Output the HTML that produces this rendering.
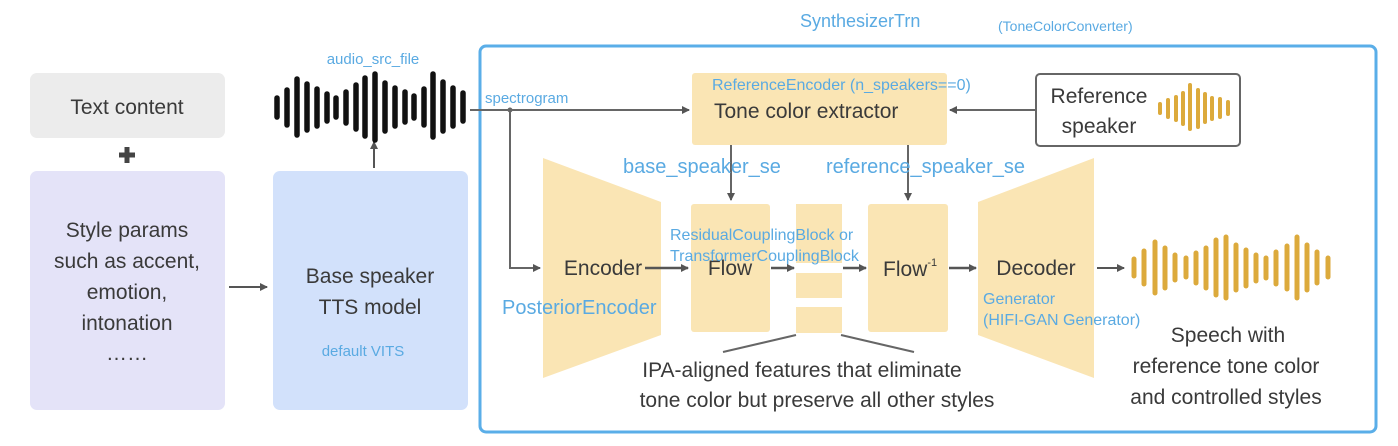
<!DOCTYPE html>
<html><head><meta charset="utf-8"><style>
html,body{margin:0;padding:0;background:#fff;}
svg{display:block;}
.d{font-family:"Liberation Sans",sans-serif;fill:#3a3a3a;}
.b{font-family:"Liberation Sans",sans-serif;fill:#5aaae2;}
</style></head><body>
<svg width="1398" height="446" viewBox="0 0 1398 446" xmlns="http://www.w3.org/2000/svg">
<defs>
<marker id="ar" markerWidth="8" markerHeight="8" refX="7" refY="4" orient="auto" markerUnits="userSpaceOnUse">
<path d="M0,0 L8,4 L0,8 z" fill="#555"/></marker>
</defs>
<rect x="30" y="73" width="195" height="65" rx="7" fill="#ececec"/>
<text class="d" x="127" y="114" font-size="21" text-anchor="middle">Text content</text>
<path d="M127 147 v16 M119 155 h16" stroke="#444" stroke-width="5"/>
<rect x="30" y="171" width="195" height="239" rx="7" fill="#e4e3f8"/>
<text class="d" font-size="21" text-anchor="middle"><tspan x="127" y="237">Style params</tspan><tspan x="127" y="268">such as accent,</tspan><tspan x="127" y="299">emotion,</tspan><tspan x="127" y="330">intonation</tspan><tspan x="127" y="360">……</tspan></text>
<line x1="229" y1="287" x2="267" y2="287" stroke="#555" stroke-width="2" marker-end="url(#ar)"/>
<rect x="273" y="171" width="195" height="239" rx="7" fill="#d2e1fb"/>
<text class="d" font-size="21" text-anchor="middle"><tspan x="370" y="283">Base speaker</tspan><tspan x="370" y="314">TTS model</tspan></text>
<text class="b" x="363" y="356" font-size="15" text-anchor="middle">default VITS</text>
<line x1="374" y1="168" x2="374" y2="142" stroke="#555" stroke-width="2" marker-end="url(#ar)"/>
<text class="b" x="373" y="64" font-size="15" text-anchor="middle">audio_src_file</text>
<g stroke="#111" stroke-width="5.5" stroke-linecap="round">
<line x1="277" y1="98" x2="277" y2="117"/><line x1="287" y1="90" x2="287" y2="125"/><line x1="297" y1="79" x2="297" y2="135"/><line x1="307" y1="84" x2="307" y2="130"/><line x1="317" y1="89" x2="317" y2="126"/><line x1="327" y1="94" x2="327" y2="121"/><line x1="336" y1="98" x2="336" y2="117"/><line x1="346" y1="92" x2="346" y2="123"/><line x1="356" y1="85" x2="356" y2="129"/><line x1="365" y1="78" x2="365" y2="136"/><line x1="375" y1="74" x2="375" y2="140"/><line x1="385" y1="83" x2="385" y2="131"/><line x1="395" y1="88" x2="395" y2="126"/><line x1="405" y1="92" x2="405" y2="122"/><line x1="414" y1="96" x2="414" y2="118"/><line x1="424" y1="89" x2="424" y2="125"/><line x1="433" y1="74" x2="433" y2="137"/><line x1="443" y1="82" x2="443" y2="131"/><line x1="453" y1="88" x2="453" y2="126"/><line x1="463" y1="93" x2="463" y2="121"/>
</g>
<rect x="480" y="46" width="896" height="386" rx="6" fill="none" stroke="#5aaee8" stroke-width="3"/>
<text class="b" x="800" y="27" font-size="18">SynthesizerTrn</text>
<text class="b" x="998" y="31" font-size="14">(ToneColorConverter)</text>
<text class="b" x="485" y="103" font-size="15">spectrogram</text>
<line x1="470" y1="110" x2="689" y2="110" stroke="#666" stroke-width="2" marker-end="url(#ar)"/>
<polyline points="510,110 510,268 540,268" fill="none" stroke="#666" stroke-width="2" marker-end="url(#ar)"/>
<circle cx="510" cy="110" r="2.5" fill="#666"/>
<rect x="692" y="73" width="255" height="72" rx="3" fill="#fae5b4"/>
<text class="b" x="712" y="90" font-size="16">ReferenceEncoder (n_speakers==0)</text>
<text class="d" x="714" y="118" font-size="21">Tone color extractor</text>
<line x1="1035" y1="110" x2="950" y2="110" stroke="#666" stroke-width="2" marker-end="url(#ar)"/>
<line x1="731" y1="145" x2="731" y2="200" stroke="#666" stroke-width="2" marker-end="url(#ar)"/>
<line x1="908" y1="145" x2="908" y2="200" stroke="#666" stroke-width="2" marker-end="url(#ar)"/>
<rect x="1036" y="74" width="204" height="72" rx="4" fill="#fff" stroke="#666" stroke-width="2"/>
<text class="d" font-size="21" text-anchor="middle"><tspan x="1099" y="103">Reference</tspan><tspan x="1099" y="133">speaker</tspan></text>
<g stroke="#dcaa3c" stroke-width="4" stroke-linecap="round">
<line x1="1160" y1="104" x2="1160" y2="113"/><line x1="1168" y1="100" x2="1168" y2="117"/><line x1="1176" y1="97" x2="1176" y2="120"/><line x1="1183" y1="93" x2="1183" y2="124"/><line x1="1190" y1="85" x2="1190" y2="129"/><line x1="1198" y1="90" x2="1198" y2="127"/><line x1="1205" y1="94" x2="1205" y2="122"/><line x1="1212" y1="98" x2="1212" y2="119"/><line x1="1220" y1="99" x2="1220" y2="117"/><line x1="1228" y1="102" x2="1228" y2="114"/>
</g>
<polygon points="543,158 661,202 661,335 543,378" fill="#fae5b4"/>
<rect x="691" y="204" width="79" height="128" rx="3" fill="#fae5b4"/>
<rect x="796" y="204" width="46" height="59" fill="#fae5b4"/>
<rect x="796" y="273" width="46" height="25" fill="#fae5b4"/>
<rect x="796" y="307" width="46" height="26" fill="#fae5b4"/>
<rect x="868" y="204" width="80" height="128" rx="3" fill="#fae5b4"/>
<polygon points="978,202 1094,158 1094,378 978,335" fill="#fae5b4"/>
<text class="b" x="623" y="173" font-size="20">base_speaker_se</text>
<text class="b" x="826" y="173" font-size="20">reference_speaker_se</text>
<text class="d" x="603" y="275" font-size="21" text-anchor="middle">Encoder</text>
<text class="d" x="730" y="275" font-size="21" text-anchor="middle">Flow</text>
<text class="d" x="883" y="276" font-size="21">Flow<tspan font-size="11" dy="-10">-1</tspan></text>
<text class="d" x="1036" y="275" font-size="21" text-anchor="middle">Decoder</text>
<text class="b" x="670" y="240" font-size="16">ResidualCouplingBlock or</text>
<text class="b" x="670" y="261" font-size="16">TransformerCouplingBlock</text>
<text class="b" x="502" y="314" font-size="20">PosteriorEncoder</text>
<text class="b" x="983" y="304" font-size="16">Generator</text>
<text class="b" x="983" y="325" font-size="16">(HIFI-GAN Generator)</text>
<line x1="645" y1="268" x2="688" y2="268" stroke="#555" stroke-width="2.5" marker-end="url(#ar)"/>
<line x1="771" y1="268" x2="794" y2="268" stroke="#555" stroke-width="2.5" marker-end="url(#ar)"/>
<line x1="843" y1="268" x2="866" y2="268" stroke="#555" stroke-width="2.5" marker-end="url(#ar)"/>
<line x1="949" y1="268" x2="976" y2="268" stroke="#555" stroke-width="2.5" marker-end="url(#ar)"/>
<line x1="1097" y1="268" x2="1124" y2="268" stroke="#555" stroke-width="2" marker-end="url(#ar)"/>
<line x1="796" y1="335" x2="723" y2="352" stroke="#666" stroke-width="2"/>
<line x1="841" y1="335" x2="914" y2="352" stroke="#666" stroke-width="2"/>
<text class="d" font-size="21" text-anchor="middle"><tspan x="802" y="377">IPA-aligned features that eliminate</tspan><tspan x="817" y="407">tone color but preserve all other styles</tspan></text>
<g stroke="#dcaa3c" stroke-width="5" stroke-linecap="round">
<line x1="1134" y1="259" x2="1134" y2="276"/><line x1="1144" y1="251" x2="1144" y2="284"/><line x1="1155" y1="242" x2="1155" y2="293"/><line x1="1165" y1="248" x2="1165" y2="288"/><line x1="1175" y1="255" x2="1175" y2="280"/><line x1="1186" y1="258" x2="1186" y2="277"/><line x1="1196" y1="253" x2="1196" y2="283"/><line x1="1206" y1="248" x2="1206" y2="288"/><line x1="1216" y1="240" x2="1216" y2="295"/><line x1="1226" y1="237" x2="1226" y2="298"/><line x1="1236" y1="245" x2="1236" y2="290"/><line x1="1246" y1="250" x2="1246" y2="286"/><line x1="1256" y1="255" x2="1256" y2="281"/><line x1="1266" y1="258" x2="1266" y2="278"/><line x1="1276" y1="252" x2="1276" y2="284"/><line x1="1287" y1="246" x2="1287" y2="289"/><line x1="1297" y1="237" x2="1297" y2="298"/><line x1="1307" y1="245" x2="1307" y2="290"/><line x1="1317" y1="252" x2="1317" y2="283"/><line x1="1328" y1="258" x2="1328" y2="277"/>
</g>
<text class="d" font-size="21" text-anchor="middle"><tspan x="1228" y="342">Speech with</tspan><tspan x="1226" y="373">reference tone color</tspan><tspan x="1226" y="404">and controlled  styles</tspan></text>
</svg>
</body></html>
